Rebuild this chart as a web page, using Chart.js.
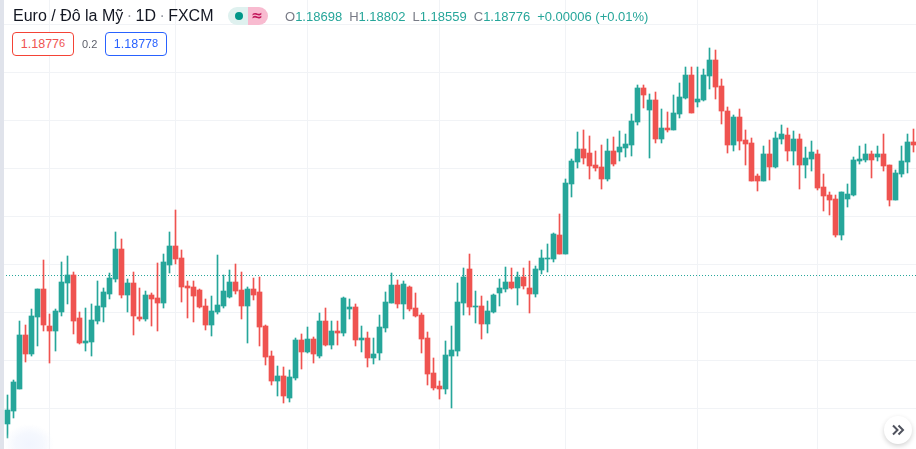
<!DOCTYPE html>
<html>
<head>
<meta charset="utf-8">
<script src="https://cdn.jsdelivr.net/npm/chart.js@4"></script>
<style>
  html, body { margin: 0; padding: 0; background: #fff; }
  #wrap { position: relative; width: 916px; height: 449px; overflow: hidden; font-family: "Liberation Sans", Arial, sans-serif; }
  #candles { position: absolute; left: 0; top: 0; }
  #strip { position: absolute; left: 0; top: 0; width: 4px; height: 449px; background: #e0e3eb; }
  #smudge { position: absolute; left: 4px; top: 424px; width: 50px; height: 40px; border-radius: 50%;
            background: radial-gradient(closest-side, #f1f5fe 0%, #f5f8fe 55%, rgba(255,255,255,0) 100%); }
  .t { position: absolute; white-space: nowrap; }
  #title { left: 13px; top: 7px; font-size: 16px; line-height: 18px; color: #131722; }
  #title span { color: #9598a1; margin: 0 -1px; }
  #ohlc { left: 285px; top: 9px; font-size: 13px; line-height: 16px; color: #26a69a; }
  #ohlc b { font-weight: normal; color: #787b86; }
  #ohlc i { font-style: normal; margin-right: 7px; }
  #pillA { position: absolute; left: 228px; top: 7px; width: 20px; height: 18px; background: #dff1ef; border-radius: 9px 0 0 9px; }
  #pillA div { position: absolute; left: 7px; top: 5px; width: 8px; height: 8px; border-radius: 50%; background: #009688; }
  #pillB { position: absolute; left: 248px; top: 7px; width: 20px; height: 18px; background: #f8bbd0; border-radius: 0 9px 9px 0;
           color: #c2185b; font-size: 14px; line-height: 17px; text-align: center; font-family: "DejaVu Sans", sans-serif; font-weight: bold; text-indent: -2px; }
  .box { position: absolute; top: 32px; width: 60px; height: 22px; border-radius: 4px; border: 1px solid; background: #fff;
         font-size: 12.5px; line-height: 23px; text-align: center; }
  .box sup { font-size: 11px; line-height: 0; vertical-align: 1px; }
  #sell { left: 12px; border-color: #f44336; color: #ef5350; }
  #buy { left: 105px; border-color: #2962ff; color: #2962ff; }
  #spread { left: 82px; top: 37px; font-size: 11px; line-height: 14px; color: #5d606b; }
  #next { position: absolute; left: 884px; top: 416px; width: 28px; height: 28px; border-radius: 50%; background: #fff;
          box-shadow: 0 2px 5px rgba(0,0,0,0.18); }
</style>
</head>
<body>
<div id="wrap">
  <canvas id="candles" width="916" height="449"></canvas>
  <div id="strip"></div>
  <div id="smudge"></div>
  <div class="t" id="title">Euro / Đô la Mỹ <span>·</span> 1D <span>·</span> FXCM</div>
  <div id="pillA"><div></div></div>
  <div id="pillB">≈</div>
  <div class="t" id="ohlc"><b>O</b><i>1.18698</i><b>H</b><i>1.18802</i><b>L</b><i>1.18559</i><b>C</b><i>1.18776</i><i>+0.00006 (+0.01%)</i></div>
  <div class="box" id="sell">1.1877<sup>6</sup></div>
  <div class="t" id="spread">0.2</div>
  <div class="box" id="buy">1.1877<sup>8</sup></div>
  <div id="next">
    <svg width="28" height="28" viewBox="0 0 28 28" fill="none" stroke="#50535e" stroke-width="2">
      <path d="M9 9.5 L13.5 14 L9 18.5"/><path d="M14.5 9.5 L19 14 L14.5 18.5"/>
    </svg>
  </div>
</div>
<script>
const highs = [
  1.16271, 1.16583, 1.17812, 1.17729, 1.18062, 1.18479, 1.19083, 1.17958, 1.18062, 1.19042,
  1.19167, 1.18833, 1.18000, 1.18083, 1.18167, 1.18646, 1.18500, 1.18812, 1.19667, 1.19521,
  1.18687, 1.18833, 1.18500, 1.18437, 1.18396, 1.19021, 1.19208, 1.19667, 1.20125, 1.19292,
  1.18646, 1.18646, 1.18479, 1.18271, 1.18333, 1.19187, 1.18771, 1.18875, 1.19000, 1.18833,
  1.18521, 1.18708, 1.18729, 1.17729, 1.17187, 1.16875, 1.16854, 1.16792, 1.17458, 1.17542,
  1.17687, 1.17479, 1.17979, 1.18083, 1.17812, 1.17812, 1.18312, 1.18271, 1.18167, 1.17708,
  1.17583, 1.17458, 1.17937, 1.18417, 1.18812, 1.18667, 1.18646, 1.18542, 1.18396, 1.17979,
  1.17583, 1.17042, 1.16562, 1.17396, 1.17708, 1.18604, 1.18917, 1.19208, 1.18437, 1.18333,
  1.18229, 1.18375, 1.18687, 1.18937, 1.18917, 1.18833, 1.18917, 1.19062, 1.18958, 1.19292,
  1.19417, 1.19646, 1.20042, 1.20771, 1.21187, 1.21750, 1.21792, 1.21667, 1.21354, 1.21479,
  1.21604, 1.21646, 1.21771, 1.21708, 1.22125, 1.22729, 1.22729, 1.22542, 1.22583, 1.22229,
  1.22167, 1.22521, 1.22771, 1.23104, 1.23104, 1.23104, 1.23062, 1.23500, 1.23458, 1.22854,
  1.22271, 1.22104, 1.22229, 1.21792, 1.21625, 1.20875, 1.21458, 1.21583, 1.21750, 1.21896,
  1.21833, 1.21771, 1.21708, 1.21437, 1.21562, 1.21375, 1.20875, 1.20500, 1.20437, 1.20500,
  1.20667, 1.21229, 1.21458, 1.21500, 1.21354, 1.21458, 1.21708, 1.21062, 1.20958, 1.21458,
  1.21708, 1.21812
];
const lows = [
  1.15375, 1.15792, 1.16396, 1.16958, 1.17083, 1.17292, 1.17604, 1.16937, 1.17187, 1.17917,
  1.18167, 1.17542, 1.17333, 1.17187, 1.17083, 1.17750, 1.17792, 1.18271, 1.18625, 1.18292,
  1.18000, 1.17521, 1.17812, 1.17812, 1.17708, 1.17604, 1.18083, 1.18812, 1.19000, 1.18208,
  1.17875, 1.17792, 1.18083, 1.17625, 1.17500, 1.17958, 1.18083, 1.18292, 1.18375, 1.17854,
  1.17354, 1.18250, 1.17292, 1.16896, 1.16479, 1.16250, 1.16104, 1.16125, 1.16583, 1.16812,
  1.17146, 1.16937, 1.17042, 1.17292, 1.17229, 1.17312, 1.17500, 1.17854, 1.17292, 1.17167,
  1.16854, 1.16917, 1.17000, 1.17583, 1.18187, 1.18083, 1.17854, 1.18021, 1.17896, 1.17146,
  1.16479, 1.16375, 1.16187, 1.16292, 1.16000, 1.17083, 1.17937, 1.17937, 1.17771, 1.17437,
  1.17562, 1.17979, 1.18125, 1.18417, 1.18479, 1.18146, 1.18479, 1.17979, 1.18312, 1.18792,
  1.18833, 1.19042, 1.19208, 1.19208, 1.20396, 1.21000, 1.21083, 1.20771, 1.20937, 1.20562,
  1.20729, 1.21042, 1.21146, 1.21229, 1.21250, 1.21896, 1.22250, 1.21208, 1.21521, 1.21521,
  1.21750, 1.21792, 1.22042, 1.22437, 1.22146, 1.22271, 1.22396, 1.22646, 1.22437, 1.21917,
  1.21312, 1.21354, 1.21375, 1.21062, 1.20729, 1.20521, 1.20729, 1.20750, 1.21000, 1.21500,
  1.21146, 1.21062, 1.20562, 1.20792, 1.20937, 1.20542, 1.20104, 1.20021, 1.19562, 1.19500,
  1.20187, 1.20417, 1.21083, 1.21125, 1.20792, 1.21146, 1.20937, 1.20208, 1.20333, 1.20812,
  1.20896, 1.21333
];
const opens = [
  1.15667, 1.15937, 1.16396, 1.17521, 1.17125, 1.17896, 1.18479, 1.17708, 1.17604, 1.18000,
  1.18604, 1.18771, 1.17875, 1.17354, 1.17375, 1.17812, 1.18104, 1.18375, 1.18687, 1.19312,
  1.18354, 1.18604, 1.17896, 1.17854, 1.18354, 1.18292, 1.18187, 1.18979, 1.19375, 1.19125,
  1.18542, 1.18521, 1.18458, 1.18125, 1.17729, 1.18000, 1.18125, 1.18312, 1.18625, 1.18458,
  1.18125, 1.18479, 1.18417, 1.17708, 1.17083, 1.16562, 1.16667, 1.16208, 1.16625, 1.17417,
  1.17167, 1.17437, 1.17083, 1.17812, 1.17312, 1.17604, 1.17562, 1.18062, 1.18104, 1.17417,
  1.17458, 1.17042, 1.17146, 1.17667, 1.18187, 1.18562, 1.18167, 1.18521, 1.18083, 1.17937,
  1.17458, 1.16729, 1.16458, 1.16396, 1.17083, 1.17187, 1.18187, 1.18896, 1.18104, 1.18125,
  1.17750, 1.18000, 1.18396, 1.18479, 1.18625, 1.18500, 1.18729, 1.18500, 1.18375, 1.18875,
  1.19104, 1.19104, 1.19604, 1.19208, 1.20667, 1.21125, 1.21396, 1.21312, 1.21062, 1.21021,
  1.20771, 1.21354, 1.21333, 1.21417, 1.21479, 1.21958, 1.22667, 1.22208, 1.22417, 1.21604,
  1.21833, 1.21792, 1.22125, 1.22458, 1.22937, 1.22375, 1.22417, 1.22917, 1.23250, 1.22708,
  1.22187, 1.21479, 1.22062, 1.21583, 1.21521, 1.20833, 1.20729, 1.21292, 1.21021, 1.21604,
  1.21687, 1.21354, 1.21604, 1.21062, 1.21187, 1.21292, 1.20604, 1.20437, 1.20354, 1.19604,
  1.20354, 1.20437, 1.21146, 1.21167, 1.21292, 1.21229, 1.21292, 1.21062, 1.20333, 1.20875,
  1.21125, 1.21542
];
const closes = [
  1.15958, 1.16542, 1.17521, 1.17125, 1.17917, 1.18479, 1.17729, 1.17604, 1.18021, 1.18625,
  1.18771, 1.17812, 1.17354, 1.17396, 1.17833, 1.18125, 1.18417, 1.18708, 1.19312, 1.18354,
  1.18604, 1.17917, 1.17854, 1.18354, 1.18271, 1.18187, 1.19042, 1.19375, 1.19104, 1.18521,
  1.18500, 1.18333, 1.18104, 1.17729, 1.18021, 1.18146, 1.18437, 1.18625, 1.18437, 1.18125,
  1.18479, 1.18354, 1.17687, 1.17062, 1.16562, 1.16667, 1.16250, 1.16646, 1.17417, 1.17167,
  1.17437, 1.17125, 1.17812, 1.17312, 1.17604, 1.17562, 1.18292, 1.18104, 1.17417, 1.17458,
  1.17042, 1.17125, 1.17687, 1.18208, 1.18562, 1.18167, 1.18583, 1.18062, 1.17917, 1.17437,
  1.16708, 1.16417, 1.16396, 1.17104, 1.17208, 1.18208, 1.18729, 1.18104, 1.18125, 1.17750,
  1.18021, 1.18354, 1.18500, 1.18625, 1.18500, 1.18729, 1.18542, 1.18375, 1.18896, 1.19125,
  1.19125, 1.19625, 1.19208, 1.20687, 1.21146, 1.21396, 1.21208, 1.21042, 1.21000, 1.20771,
  1.21354, 1.21083, 1.21437, 1.21500, 1.21979, 1.22667, 1.22521, 1.22417, 1.21604, 1.21833,
  1.21792, 1.22146, 1.22479, 1.22937, 1.22146, 1.22437, 1.22937, 1.23250, 1.22687, 1.22187,
  1.21479, 1.22062, 1.21562, 1.21500, 1.20729, 1.20729, 1.21292, 1.21021, 1.21625, 1.21708,
  1.21354, 1.21604, 1.21062, 1.21208, 1.21333, 1.20583, 1.20417, 1.20333, 1.19604, 1.20500,
  1.20458, 1.21167, 1.21187, 1.21292, 1.21167, 1.21292, 1.21042, 1.20333, 1.20896, 1.21146,
  1.21542, 1.21479
];
const monthStarts = [7, 28, 50, 72, 93, 115, 135];
const priceTicks = [1.16, 1.17, 1.18, 1.19, 1.20, 1.21, 1.22, 1.23, 1.24];
const lastPrice = 1.1876;

const upColor = '#26a69a';
const downColor = '#ef5350';
const candleColors = closes.map((c, i) => (c >= opens[i] ? upColor : downColor));

// one pixel = 1/4800 of price, one candle = 6 pixels
const xMin = -1.25, xMax = xMin + 916 / 6;
const yMax = 1.245, yMin = yMax - 449 / 4800;

const ctx = document.getElementById('candles').getContext('2d');
new Chart(ctx, {
  data: {
    datasets: [
      {
        type: 'line',
        label: 'Last',
        data: [{ x: xMin, y: lastPrice }, { x: xMax, y: lastPrice }],
        borderColor: upColor,
        borderWidth: 1,
        borderDash: [1, 2],
        pointRadius: 0,
        order: 3
      },
      {
        type: 'bar',
        label: 'Wick',
        data: highs.map((h, i) => ({ x: i, y: [lows[i], h] })),
        backgroundColor: candleColors,
        barThickness: 1,
        grouped: false,
        order: 2
      },
      {
        type: 'bar',
        label: 'Body',
        data: opens.map((o, i) => ({ x: i, y: [o, closes[i]] })),
        backgroundColor: candleColors,
        barThickness: 5,
        grouped: false,
        order: 1
      }
    ]
  },
  options: {
    responsive: false,
    animation: false,
    devicePixelRatio: 1,
    layout: { padding: 0 },
    plugins: { legend: { display: false }, tooltip: { enabled: false } },
    scales: {
      x: {
        type: 'linear',
        offset: false,
        min: xMin,
        max: xMax,
        afterBuildTicks: scale => { scale.ticks = monthStarts.map(v => ({ value: v })); },
        grid: { color: '#f1f3f6', offset: false, drawTicks: false },
        border: { display: false },
        ticks: { display: false, autoSkip: false }
      },
      y: {
        type: 'linear',
        min: yMin,
        max: yMax,
        afterBuildTicks: scale => { scale.ticks = priceTicks.map(v => ({ value: v })); },
        grid: { color: '#f1f3f6', drawTicks: false },
        border: { display: false },
        ticks: { display: false, autoSkip: false }
      }
    }
  }
});
</script>
</body>
</html>
